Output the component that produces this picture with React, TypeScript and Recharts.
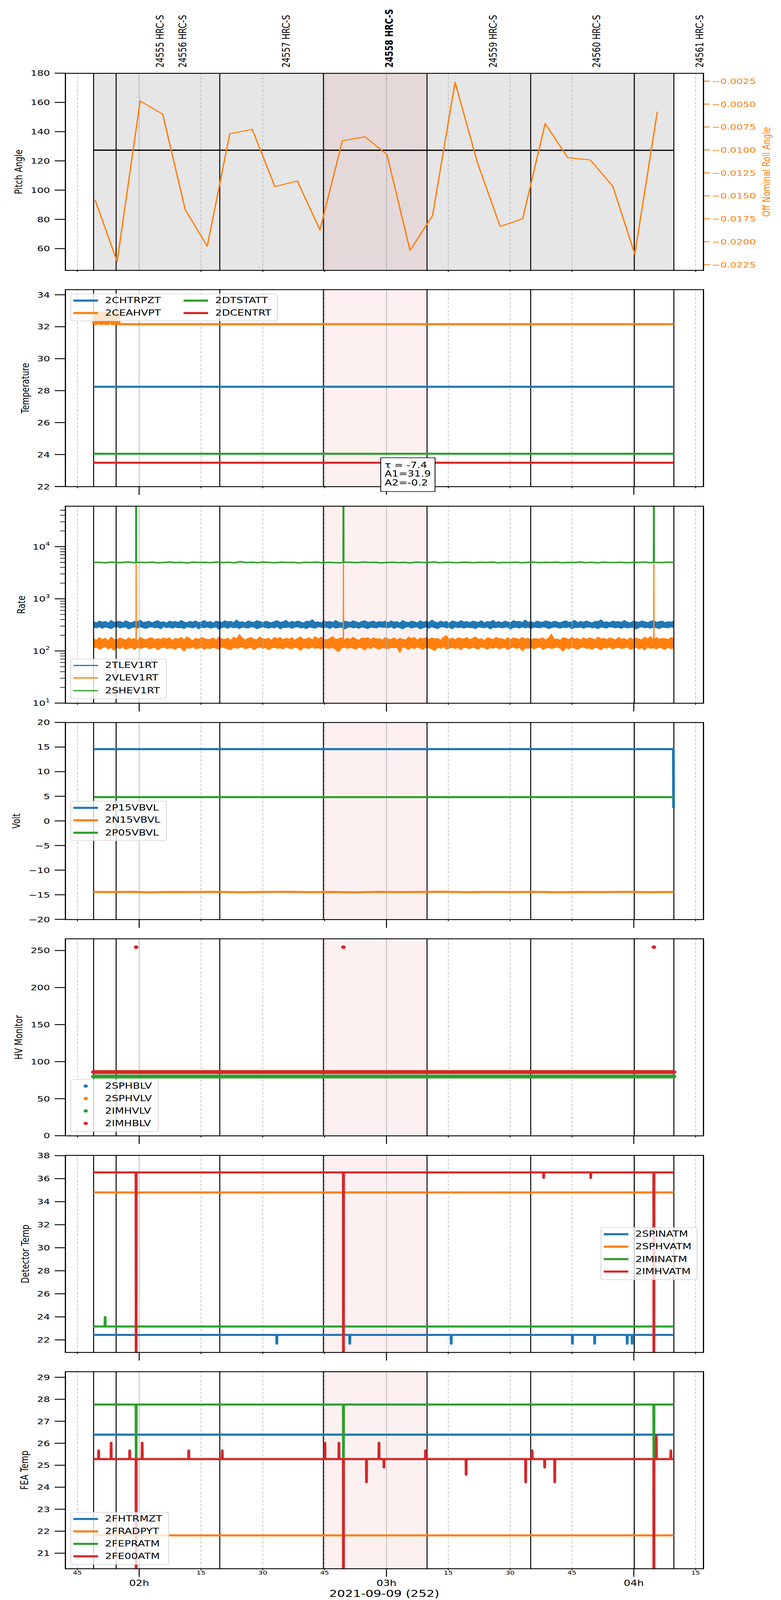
import React from 'react';
import { ComposedChart, Line, Area, Scatter, XAxis, YAxis, ReferenceLine, ReferenceArea } from 'recharts';

const FONT = '"DejaVu Sans", Verdana, sans-serif';
const C_BLUE = '#1f77b4';
const C_ORANGE = '#ff7f0e';
const C_GREEN = '#2ca02c';
const C_RED = '#d62728';

// ---------- time axis (minutes after 00:00, 2021-09-09) ----------
const T_DOMAIN: [number, number] = [102.06, 256.86];
const X_TICKS = [105, 120, 135, 150, 165, 180, 195, 210, 225, 240, 255];
const X_TICK_LABELS = ['45', '02h', '15', '30', '45', '03h', '15', '30', '45', '04h', '15'];
const DATA_START = 108.95;
const DATA_END = 249.72;
const OBS_STARTS = [114.41, 139.56, 164.7, 189.84, 214.99, 240.13];
const HOUR_LINES = [120, 180, 240];
const QUARTER_LINES = [105, 135, 150, 165, 195, 210, 225, 255];
const FOCUS_OBS = [164.7, 189.84];
const OBS_LABEL_T = [125.1, 130.6, 155.7, 180.7, 205.9, 231.0, 256.0];
const OBS_LABELS = ['24555 HRC-S', '24556 HRC-S', '24557 HRC-S', '24558 HRC-S', '24559 HRC-S', '24560 HRC-S', '24561 HRC-S'];
const OBS_LABEL_BOLD = [false, false, false, true, false, false, false];

// ---------- panel 1: pitch / roll ----------
const PITCH_T = [108.95, 139.56, 249.72];
const PITCH_V = [127.35, 127.3, 127.25];
const ROLL_T = [109.31, 114.66, 120.24, 125.71, 131.17, 136.52, 141.98, 147.45, 152.92, 158.38, 163.85, 169.31, 174.78, 180.12, 185.71, 191.18, 196.64, 202.11, 207.57, 213.04, 218.51, 223.97, 229.44, 234.9, 240.25, 245.71];
const ROLL_V = [-0.01544, -0.02217, -0.00466, -0.0061, -0.0165, -0.0205, -0.00824, -0.00775, -0.014, -0.01338, -0.01872, -0.00899, -0.00856, -0.0105, -0.02095, -0.01715, -0.00262, -0.01145, -0.01834, -0.0175, -0.00711, -0.01084, -0.01109, -0.01395, -0.02137, -0.00583];
const PITCH_TICKS = [60, 80, 100, 120, 140, 160, 180];
const ROLL_TICKS = [-0.0225, -0.02, -0.0175, -0.015, -0.0125, -0.01, -0.0075, -0.005, -0.0025];

// ---------- panel 2: temperature ----------
const FLAT_T = [108.95, 249.72];
const CHTRPZT_V = [28.24, 28.24];
const CEAHVPT_T = [108.95, 109.2, 109.5, 109.8, 110.1, 110.4, 110.7, 111.0, 111.3, 111.6, 111.9, 112.2, 112.5, 112.8, 113.1, 113.4, 113.7, 114.0, 114.3, 114.6, 114.9, 115.2, 249.72];
const CEAHVPT_V = [32.16, 32.9, 32.16, 32.9, 32.2, 32.9, 32.16, 32.88, 32.18, 32.9, 32.16, 32.85, 32.16, 32.3, 32.9, 32.16, 32.9, 32.17, 32.9, 32.16, 32.88, 32.16, 32.16];
const DTSTATT_V = [24.05, 24.05];
const DCENTRT_V = [23.49, 23.49];

const BLUE_HI = [
  366,351,379,358,372,347,390,356,368,374,353,383,361,349,373,366,392,355,364,376,
  350,370,385,357,367,346,378,361,372,354,389,363,351,375,359,381,354,368,386,357,
  371,348,377,362,356,383,365,373,352,397,360,369,349,379,364,358,385,371,355,375,
  361,350,370,382,356,367,390,352,373,359,380,363,348,376,368,400,357,365,351,380,
  362,372,356,388,361,348,376,367,356,382,365,352,372,385,358,366,377,354,371,361,
  374,353,381,359,369,348,387,362,355,376,366,350,383,360,371,357,393,364,352,378,
  358,373,346,380,367,355,386,361,370,352,377,365,358,384,349,372,363,391,356,369,
  351,378,362,357,385,368,374,353,396,360,367,349,376,364,358,381,369,355,375,362,
  352,370,381,356,366,389,354,373,359,379,363,350,374,368,399,357,365,353,378,364,
  370,356,387,361,350,374,367,358,381,365,354,372,384,358,368,377,354,369,361,375,
];
const BLUE_LO = [
  283,275,289,269,286,278,265,284,291,273,280,288,261,278,285,271,289,276,268,284,
  287,274,281,263,290,277,284,270,286,275,279,267,288,282,273,290,262,281,276,287,
  271,279,286,257,278,285,269,289,275,282,266,286,278,272,289,283,264,276,287,279,
  270,285,275,290,261,282,277,286,269,284,288,273,279,265,286,278,271,289,282,275,
  284,267,287,272,279,285,260,278,288,274,283,269,286,277,265,284,279,273,289,280,
  281,276,289,268,284,279,262,283,290,272,282,287,263,277,286,270,288,275,267,285,
  288,273,280,264,289,276,285,271,284,277,280,266,287,281,274,289,261,280,277,286,
  273,281,285,259,280,284,271,288,276,281,268,285,279,274,288,282,266,277,286,280,
  271,284,276,289,263,281,278,285,270,283,287,274,280,266,285,279,272,288,281,276,
  283,268,286,273,280,284,261,279,287,275,282,270,285,278,266,283,280,274,288,279,
];
const ORANGE_HI = [
  171,163,182,167,177,159,186,169,164,179,173,162,180,168,175,158,184,171,166,177,
  181,166,175,168,180,170,181,161,176,170,184,165,189,172,160,178,168,183,174,167,
  169,180,163,187,171,168,178,162,185,173,208,178,164,177,183,169,166,188,173,170,
  177,161,184,172,182,165,178,169,182,163,176,188,167,173,181,164,190,170,187,172,
  165,176,190,167,173,181,164,177,168,185,170,162,179,175,182,166,180,171,174,164,
  183,171,167,180,165,176,170,164,186,174,183,163,178,173,180,168,180,171,176,162,
  185,197,169,178,165,181,174,171,183,166,176,187,168,174,160,181,176,166,185,172,
  175,163,182,168,179,174,167,184,171,176,166,174,173,169,181,164,178,213,168,172,
  162,181,176,166,185,170,177,163,182,168,179,174,165,186,171,176,167,180,172,164,
  184,170,175,163,181,168,178,172,165,186,171,190,164,183,169,176,173,167,182,174,
];
const ORANGE_LO = [
  113,117,107,114,121,108,115,102,118,110,119,106,112,116,105,117,111,114,120,109,
  112,118,104,113,118,110,114,112,107,117,113,98,115,111,119,109,112,116,106,114,
  110,116,112,107,119,113,109,104,118,111,115,120,108,114,117,105,113,119,110,116,
  105,113,117,111,114,107,118,112,109,117,112,102,116,113,110,119,111,114,108,118,
  114,111,117,105,95,113,118,110,116,112,108,117,113,103,116,110,119,112,108,115,
  112,110,116,114,117,92,119,113,107,115,110,118,112,106,117,114,109,101,116,111,
  119,107,112,116,110,115,104,118,113,110,117,112,108,119,114,106,116,111,118,109,
  113,117,105,112,118,110,116,100,114,111,117,108,115,119,106,112,116,110,113,118,
  111,98,114,109,117,112,106,115,118,110,113,107,117,112,104,116,111,119,108,114,
  116,110,113,118,106,112,117,109,115,103,119,111,114,108,116,112,105,117,110,113,
];
const GREEN_V = [4950,5020,4890,5060,4930,4990,5080,4910,5000,4960,5040,4900,4980,5070,4940,5010,4870,5050,4970,5000,4920,5090,4960,5020,4890,5150,4950,5010,4930,5060,4980,4910,5040,4970,5000,4880,5030,4950,5070,4920,5010,4960,4900,5050,4990,4940,5080,4970,5020,4900,4960,5040,4930,5000,4880,5060,4980,4950,5100,4920,5030,4970,4910,5050,4990,4940,5020,4960,5070,4890,5000,4950,5040,4920,4980,5060,4930,5010,4970,5050,4910,5000,4960,5080,4940,5020,4890,5040,4980,4950,5030,4920,5010,4970,5060,4940,5000,4960,5040,4990];
const SPIKE_T = [119.27, 169.56, 244.87];
const GREEN_SPIKE_V = [200000, 200000, 200000];
const ORANGE_SPIKE_V = [4700, 4700, 4700];
const RATE_MAJOR = [10, 100, 1000, 10000];
const RATE_TICKS = [10, 20, 30, 40, 50, 60, 70, 80, 90, 100, 200, 300, 400, 500, 600, 700, 800, 900, 1000, 2000, 3000, 4000, 5000, 6000, 7000, 8000, 9000, 10000, 20000, 30000, 40000, 50000];

// ---------- panel 4: volt ----------
const P15_T = [108.95, 249.6, 249.65];
const P15_V = [14.57, 14.57, 2.6];
const N15_T = [108.95, 113, 118.5, 122, 127.5, 133, 139, 144.5, 150, 156, 161.5, 167, 172, 177.5, 183, 188, 193.5, 199, 204.5, 210, 216, 221.5, 227, 232.5, 238, 243.5, 249.72];
const N15_V = [-14.42, -14.45, -14.4, -14.5, -14.42, -14.44, -14.4, -14.48, -14.42, -14.41, -14.46, -14.42, -14.5, -14.4, -14.45, -14.42, -14.38, -14.47, -14.42, -14.44, -14.4, -14.49, -14.42, -14.45, -14.41, -14.46, -14.42];
const P05_V = [4.83, 4.83];

// ---------- panel 5: HV monitor ----------
const IMHVLV_V = [79.9, 79.9];
const IMHBLV_V = [85.9, 85.9];
const IMHBLV_OUT_V = [254.5, 254.5, 254.5];

// ---------- panel 6: detector temp ----------
const SPINATM_BASE = 22.43;
const SPINATM_SPIKE_T = [153.4, 171.1, 195.7, 225.1, 230.5, 238.4, 239.6];
const SPINATM_SPIKE_V = [21.67, 21.67, 21.67, 21.67, 21.67, 21.67, 21.67];
const SPHVATM_V = [34.8, 34.8];
const IMINATM_BASE = 23.16;
const IMINATM_SPIKE_T = [111.74];
const IMINATM_SPIKE_V = [23.97];
const IMHVATM_BASE = 36.54;
const IMHVATM_SPIKE_T = [119.27, 169.56, 218.14, 229.56, 244.87];
const IMHVATM_SPIKE_V = [15, 15, 36.07, 36.07, 15];

// ---------- panel 7: FEA temp ----------
const FHTRMZT_V = [26.39, 26.39];
const FRADPYT_V = [21.81, 21.81];
const FEPRATM_BASE = 27.76;
const FEPRATM_SPIKE_T = [119.27, 169.56, 244.87];
const FEPRATM_SPIKE_V = [25.3, 25.3, 25.3];
const FE00ATM_BASE = 25.28;
const FE00ATM_SPIKE_T = [110.17, 113.2, 117.7, 119.27, 120.73, 132.03, 140.16, 165.07, 168.47, 169.56, 175.15, 178.18, 179.39, 189.47, 199.32, 213.77, 215.35, 218.38, 220.82, 244.87, 245.47, 248.99];
const FE00ATM_SPIKE_V = [25.67, 26.02, 25.67, 15, 26.02, 25.67, 25.67, 26.02, 26.02, 15, 24.23, 26.02, 24.9, 25.67, 24.57, 24.23, 25.67, 24.9, 24.23, 15, 26.35, 25.67];

// ---------- layout (2000 x 5400 design) ----------
const PANEL_TOPS = [247, 977, 1708, 2438, 3168, 3899, 4629];
const PH = 665;
const PLOT_L = 167;
const PLOT_R = 1801;
const TOP_PAD = 30;
const DESIGN_H = 5400;

type Pt = { t: number; v: number | null };
const pts = (ts: number[], vs: (number | null)[]): Pt[] => ts.map((t, i) => ({ t, v: vs[i] }));
function withSpikes(base: number, st: number[], sv: number[]): Pt[] {
  const out: Pt[] = [{ t: DATA_START, v: base }];
  st.map((t, i) => ({ t, v: sv[i] }))
    .sort((a, b) => a.t - b.t)
    .forEach((s) => {
      out.push({ t: s.t - 0.04, v: base }, { t: s.t, v: s.v }, { t: s.t + 0.04, v: base });
    });
  out.push({ t: DATA_END, v: base });
  return out;
}
const grid = (n: number) => Array.from({ length: n }, (_, i) => DATA_START + (i * (DATA_END - DATA_START)) / (n - 1));

const RATE_T = grid(BLUE_HI.length);
const GREEN_T = grid(GREEN_V.length);
const rateData = RATE_T.map((t, i) => ({ t, blue: [BLUE_LO[i], BLUE_HI[i]], orange: [ORANGE_LO[i], ORANGE_HI[i]] }));
const greenRate: Pt[] = [
  ...GREEN_T.map((t, i) => ({ t, v: GREEN_V[i] })),
  ...SPIKE_T.flatMap((t, i) => [{ t: t - 0.02, v: 5000 }, { t, v: GREEN_SPIKE_V[i] }, { t: t + 0.02, v: 5000 }]),
].sort((a, b) => a.t - b.t);
const orangeSpikes: Pt[] = SPIKE_T.flatMap((t, i) => [
  { t: t - 0.03, v: 140 },
  { t, v: ORANGE_SPIKE_V[i] },
  { t: t + 0.03, v: 140 },
  { t: t + 0.035, v: null },
]);

const minusFmt = (v: number) => (v < 0 ? '\u2212' + String(Math.abs(v)) : String(v));

// ---------- tick renderers ----------
const xTick = (showMajor: boolean, showLabels: boolean) => (p: any) => {
  const { x, y, payload } = p;
  const idx = X_TICKS.indexOf(payload.value);
  const lab = idx >= 0 ? X_TICK_LABELS[idx] : '';
  const major = lab.endsWith('h');
  const len = major ? (showMajor ? 28 : 0) : 6;
  return (
    <g>
      {len > 0 && <line x1={x} x2={x} y1={y} y2={y + len} stroke="#000" strokeWidth={major ? 2.5 : 2} />}
      {showLabels && (
        <text x={x} y={y + (major ? 50 : 14)} textAnchor="middle" dominantBaseline="central" fontSize={major ? 27 : 18} fontFamily={FONT} fill="#000">
          {lab}
        </text>
      )}
    </g>
  );
};

const yTickLeft = (fmt: (v: number) => string) => (p: any) => {
  const { x, y, payload } = p;
  return (
    <g>
      <line x1={x - 27} x2={x} y1={y} y2={y} stroke="#000" strokeWidth={3} />
      <text x={x - 39} y={y} dy="0.36em" textAnchor="end" fontSize={26} fontFamily={FONT} fill="#000">
        {fmt(payload.value)}
      </text>
    </g>
  );
};

const yTickRight = (p: any) => {
  const { x, y, payload } = p;
  return (
    <g>
      <line x1={x} x2={x + 17} y1={y} y2={y} stroke={C_ORANGE} strokeWidth={3} />
      <text x={x + 22} y={y} dy="0.36em" textAnchor="start" fontSize={26} fontFamily={FONT} fill={C_ORANGE}>
        {'\u2212' + Math.abs(payload.value).toFixed(4)}
      </text>
    </g>
  );
};

const logTick = (p: any) => {
  const { x, y, payload } = p;
  const v = payload.value;
  const major = RATE_MAJOR.includes(v);
  if (!major) return <line x1={x - 13} x2={x} y1={y} y2={y} stroke="#000" strokeWidth={2} />;
  const e = Math.round(Math.log10(v));
  return (
    <g>
      <line x1={x - 27} x2={x} y1={y} y2={y} stroke="#000" strokeWidth={3} />
      <text x={x - 39} y={y} dy="0.36em" textAnchor="end" fontSize={26} fontFamily={FONT} fill="#000">
        10<tspan dy={-12} fontSize={18}>{e}</tspan>
      </text>
    </g>
  );
};

const xAxisEl = (showMajor: boolean, showLabels: boolean, h: number) => (
  <XAxis
    dataKey="t"
    type="number"
    domain={T_DOMAIN}
    allowDataOverflow
    ticks={X_TICKS}
    interval={0}
    tickLine={false}
    axisLine={false}
    tickSize={0}
    tickMargin={0}
    height={h}
    tick={xTick(showMajor, showLabels)}
  />
);

const yAxisEl = (domain: [number, number], ticks: number[], tick: any, extra: any = {}) => (
  <YAxis
    type="number"
    domain={domain}
    allowDataOverflow
    ticks={ticks}
    interval={0}
    tickLine={false}
    axisLine={false}
    tickSize={0}
    tickMargin={0}
    width={167}
    tick={tick}
    {...extra}
  />
);

function backdrop(gray: boolean) {
  const els: any[] = [];
  if (gray) els.push(<ReferenceArea key="gray" x1={DATA_START} x2={DATA_END} fill="#808080" fillOpacity={0.2} stroke="none" />);
  els.push(<ReferenceArea key="pink" x1={FOCUS_OBS[0]} x2={FOCUS_OBS[1]} fill={C_RED} fillOpacity={0.07} stroke="none" />);
  QUARTER_LINES.forEach((t) => els.push(<ReferenceLine key={'q' + t} x={t} stroke="#b5b5b5" strokeWidth={1.5} strokeDasharray="9 5" />));
  HOUR_LINES.forEach((t) => els.push(<ReferenceLine key={'h' + t} x={t} stroke="#a8a8a8" strokeWidth={1.5} />));
  [DATA_START, ...OBS_STARTS, DATA_END].forEach((t) => els.push(<ReferenceLine key={'o' + t} x={t} stroke="#000" strokeWidth={2.5} />));
  return els;
}

const line = (key: string, data: Pt[], color: string, width: number, extra: any = {}) => (
  <Line
    key={key}
    data={data}
    dataKey="v"
    type="linear"
    stroke={color}
    strokeWidth={width}
    strokeLinejoin="round"
    dot={false}
    activeDot={false}
    isAnimationActive={false}
    {...extra}
  />
);

// ---------- HTML overlays ----------
const frame = (top: number) => (
  <div
    style={{
      position: 'absolute',
      left: PLOT_L - 1.5,
      top: top - 1.5,
      width: PLOT_R - PLOT_L + 3,
      height: PH + 3,
      border: '3px solid #000',
      boxSizing: 'border-box',
      pointerEvents: 'none',
    }}
  />
);

const yLabel = (text: string, cx: number, cy: number, color = '#000') => (
  <div
    style={{
      position: 'absolute',
      left: cx,
      top: cy,
      writingMode: 'vertical-rl',
      transform: 'translate(-50%, -50%) rotate(180deg)',
      fontSize: 27,
      whiteSpace: 'nowrap',
      color,
      lineHeight: 1,
    }}
  >
    {text}
  </div>
);

type LegItem = { label: string; color: string };
function LegendBox(props: { left: number; top: number; width: number; height: number; items: LegItem[]; rows: number; lw?: number; marker?: boolean }) {
  const { left, top, width, height, items, rows, lw = 7, marker = false } = props;
  return (
    <div
      style={{
        position: 'absolute',
        left,
        top,
        width,
        height,
        boxSizing: 'border-box',
        border: '2px solid #d4d4d4',
        borderRadius: 7,
        background: 'rgba(255,255,255,0.8)',
      }}
    >
      {items.map((it, i) => {
        const col = Math.floor(i / rows);
        const row = i % rows;
        const cy = 23 + row * 42.3 - 2;
        const x0 = col * 282 - 2;
        return (
          <React.Fragment key={i}>
            {marker ? (
              <div style={{ position: 'absolute', left: x0 + 39 - 5.5, top: cy - 5.5, width: 11, height: 11, borderRadius: '50%', background: it.color }} />
            ) : (
              <div style={{ position: 'absolute', left: x0 + 8, top: cy - lw / 2, width: 63, height: lw, background: it.color }} />
            )}
            <div style={{ position: 'absolute', left: x0 + 89, top: cy - 16, height: 32, lineHeight: '32px', fontSize: 27, whiteSpace: 'nowrap' }}>{it.label}</div>
          </React.Fragment>
        );
      })}
    </div>
  );
}

const chartBox = (panelTop: number, xh: number, content: (h: number) => React.ReactNode) => {
  const h = TOP_PAD + PH + xh;
  return <div style={{ position: 'absolute', left: 0, top: panelTop - TOP_PAD, width: 2000, height: h }}>{content(h)}</div>;
};

export default function App() {
  const W = 2000;
  const m = { top: TOP_PAD, right: 199, bottom: 0, left: 0 };
  // the browser only photographs its real viewport; fit the 5400-tall design into it
  const [fit, setFit] = React.useState(1);
  React.useLayoutEffect(() => {
    const h = window.innerHeight;
    if (h > 0 && h < DESIGN_H) setFit(h / DESIGN_H);
  }, []);

  const p1 = (
    <div style={{ position: 'absolute', left: 0, top: 0, width: 2000, height: PANEL_TOPS[0] + PH + 30 }}>
      <ComposedChart width={W} height={PANEL_TOPS[0] + PH + 30} margin={{ top: PANEL_TOPS[0], right: 0, bottom: 0, left: 0 }}>
        {xAxisEl(false, false, 30)}
        {yAxisEl([45.2, 180], PITCH_TICKS, yTickLeft(minusFmt), { yAxisId: 0 })}
        <YAxis
          yAxisId="right"
          orientation="right"
          type="number"
          domain={[-0.02311, -0.00163]}
          allowDataOverflow
          ticks={ROLL_TICKS}
          interval={0}
          tickLine={false}
          axisLine={false}
          tickSize={0}
          tickMargin={0}
          width={199}
          tick={yTickRight}
        />
        {backdrop(true)}
        {OBS_LABEL_T.map((t, i) => (
          <ReferenceLine
            key={'lab' + i}
            x={t}
            stroke="none"
            shape={(p: any) => {
              const x = p.x1;
              const y = Math.min(p.y1, p.y2) - 19;
              return (
                <text
                  x={x}
                  y={y}
                  transform={`rotate(-90 ${x} ${y})`}
                  textAnchor="start"
                  dominantBaseline="central"
                  fontSize={27}
                  fontWeight={OBS_LABEL_BOLD[i] ? 'bold' : 'normal'}
                  fontFamily={FONT}
                  fill="#000"
                >
                  {OBS_LABELS[i]}
                </text>
              );
            }}
          />
        ))}
        {line('pitch', pts(PITCH_T, PITCH_V), '#000', 4, { yAxisId: 0 })}
        {line('roll', pts(ROLL_T, ROLL_V), C_ORANGE, 3.5, { yAxisId: 'right' })}
      </ComposedChart>
    </div>
  );

  const p2 = chartBox(PANEL_TOPS[1], 30, (h) => (
    <ComposedChart width={W} height={h} margin={m}>
      {xAxisEl(true, false, 30)}
      {yAxisEl([22, 34.33], [22, 24, 26, 28, 30, 32, 34], yTickLeft(minusFmt))}
      {backdrop(false)}
      {line('a', pts(FLAT_T, CHTRPZT_V), C_BLUE, 7)}
      {line('b', pts(CEAHVPT_T, CEAHVPT_V), C_ORANGE, 7)}
      {line('c', pts(FLAT_T, DTSTATT_V), C_GREEN, 7)}
      {line('d', pts(FLAT_T, DCENTRT_V), C_RED, 7)}
    </ComposedChart>
  ));

  const p3 = chartBox(PANEL_TOPS[2], 30, (h) => (
    <ComposedChart width={W} height={h} margin={m}>
      {xAxisEl(true, false, 30)}
      {yAxisEl([10, 60000], RATE_TICKS, logTick, { scale: 'log' })}
      {backdrop(false)}
      <Area data={rateData} dataKey="blue" type="linear" stroke={C_BLUE} strokeWidth={1.5} fill={C_BLUE} fillOpacity={1} dot={false} activeDot={false} isAnimationActive={false} />
      <Area data={rateData} dataKey="orange" type="linear" stroke={C_ORANGE} strokeWidth={1.5} fill={C_ORANGE} fillOpacity={1} dot={false} activeDot={false} isAnimationActive={false} />
      {line('os', orangeSpikes, C_ORANGE, 3, { connectNulls: false })}
      {line('g', greenRate, C_GREEN, 5)}
    </ComposedChart>
  ));

  const p4 = chartBox(PANEL_TOPS[3], 30, (h) => (
    <ComposedChart width={W} height={h} margin={m}>
      {xAxisEl(true, false, 30)}
      {yAxisEl([-20, 20], [-20, -15, -10, -5, 0, 5, 10, 15, 20], yTickLeft(minusFmt))}
      {backdrop(false)}
      {line('a', pts(P15_T, P15_V), C_BLUE, 7)}
      {line('b', pts(N15_T, N15_V), C_ORANGE, 7)}
      {line('c', pts(FLAT_T, P05_V), C_GREEN, 7)}
    </ComposedChart>
  ));

  const p5 = chartBox(PANEL_TOPS[4], 30, (h) => (
    <ComposedChart width={W} height={h} margin={m}>
      {xAxisEl(true, false, 30)}
      {yAxisEl([0, 266], [0, 50, 100, 150, 200, 250], yTickLeft(minusFmt))}
      {backdrop(false)}
      {line('g', pts(FLAT_T, IMHVLV_V), C_GREEN, 13, { strokeLinecap: 'round' })}
      {line('r', pts(FLAT_T, IMHBLV_V), C_RED, 13, { strokeLinecap: 'round' })}
      <Scatter
        data={pts(SPIKE_T, IMHBLV_OUT_V)}
        dataKey="v"
        fill={C_RED}
        isAnimationActive={false}
        shape={(p: any) => <circle cx={p.cx} cy={p.cy} r={6} fill={C_RED} />}
      />
    </ComposedChart>
  ));

  const p6 = chartBox(PANEL_TOPS[5], 30, (h) => (
    <ComposedChart width={W} height={h} margin={m}>
      {xAxisEl(true, false, 30)}
      {yAxisEl([20.92, 38.03], [22, 24, 26, 28, 30, 32, 34, 36, 38], yTickLeft(minusFmt))}
      {backdrop(false)}
      {line('a', withSpikes(SPINATM_BASE, SPINATM_SPIKE_T, SPINATM_SPIKE_V), C_BLUE, 7)}
      {line('b', pts(FLAT_T, SPHVATM_V), C_ORANGE, 7)}
      {line('c', withSpikes(IMINATM_BASE, IMINATM_SPIKE_T, IMINATM_SPIKE_V), C_GREEN, 7)}
      {line('d', withSpikes(IMHVATM_BASE, IMHVATM_SPIKE_T, IMHVATM_SPIKE_V), C_RED, 7)}
    </ComposedChart>
  ));

  const P7X = 5398 - PANEL_TOPS[6] - PH;
  const p7 = chartBox(PANEL_TOPS[6], P7X, (h) => (
    <ComposedChart width={W} height={h} margin={m}>
      {xAxisEl(true, true, P7X)}
      {yAxisEl([20.3, 29.26], [21, 22, 23, 24, 25, 26, 27, 28, 29], yTickLeft(minusFmt))}
      {backdrop(false)}
      {line('a', pts(FLAT_T, FHTRMZT_V), C_BLUE, 7)}
      {line('b', pts(FLAT_T, FRADPYT_V), C_ORANGE, 7)}
      {line('c', withSpikes(FEPRATM_BASE, FEPRATM_SPIKE_T, FEPRATM_SPIKE_V), C_GREEN, 7)}
      {line('d', withSpikes(FE00ATM_BASE, FE00ATM_SPIKE_T, FE00ATM_SPIKE_V), C_RED, 7)}
    </ComposedChart>
  ));

  const mid = (i: number) => PANEL_TOPS[i] + PH / 2;

  return (
    <div
      style={{
        position: 'absolute',
        left: 0,
        top: 0,
        width: 2000,
        height: DESIGN_H,
        background: '#fff',
        fontFamily: FONT,
        color: '#000',
        overflow: 'hidden',
        transform: `scale(1, ${fit})`,
        transformOrigin: '0 0',
      }}
    >
      {p1}
      {p2}
      {p3}
      {p4}
      {p5}
      {p6}
      {p7}
      {PANEL_TOPS.map((t, i) => (
        <React.Fragment key={i}>{frame(t)}</React.Fragment>
      ))}
      {yLabel('Pitch Angle', 47, mid(0))}
      {yLabel('Off Nominal Roll Angle', 1962, mid(0), C_ORANGE)}
      {yLabel('Temperature', 64, mid(1))}
      {yLabel('Rate', 54, mid(2))}
      {yLabel('Volt', 41, mid(3))}
      {yLabel('HV Monitor', 47, mid(4))}
      {yLabel('Detector Temp', 64, mid(5))}
      {yLabel('FEA Temp', 62, mid(6))}

      <LegendBox left={180} top={991} width={531} height={93} rows={2} items={[
        { label: '2CHTRPZT', color: C_BLUE },
        { label: '2CEAHVPT', color: C_ORANGE },
        { label: '2DTSTATT', color: C_GREEN },
        { label: '2DCENTRT', color: C_RED },
      ]} />
      <LegendBox left={180} top={2223} width={247} height={136} rows={3} lw={4} items={[
        { label: '2TLEV1RT', color: C_BLUE },
        { label: '2VLEV1RT', color: C_ORANGE },
        { label: '2SHEV1RT', color: C_GREEN },
      ]} />
      <LegendBox left={180} top={2703} width={247} height={135} rows={3} items={[
        { label: '2P15VBVL', color: C_BLUE },
        { label: '2N15VBVL', color: C_ORANGE },
        { label: '2P05VBVL', color: C_GREEN },
      ]} />
      <LegendBox left={180} top={3642} width={226} height={178} rows={4} marker items={[
        { label: '2SPHBLV', color: C_BLUE },
        { label: '2SPHVLV', color: C_ORANGE },
        { label: '2IMHVLV', color: C_GREEN },
        { label: '2IMHBLV', color: C_RED },
      ]} />
      <LegendBox left={1538} top={4142} width={248} height={178} rows={4} items={[
        { label: '2SPINATM', color: C_BLUE },
        { label: '2SPHVATM', color: C_ORANGE },
        { label: '2IMINATM', color: C_GREEN },
        { label: '2IMHVATM', color: C_RED },
      ]} />
      <LegendBox left={180} top={5103} width={253} height={178} rows={4} items={[
        { label: '2FHTRMZT', color: C_BLUE },
        { label: '2FRADPYT', color: C_ORANGE },
        { label: '2FEPRATM', color: C_GREEN },
        { label: '2FE00ATM', color: C_RED },
      ]} />

      <div
        style={{
          position: 'absolute',
          left: 974,
          top: 1544,
          width: 141,
          height: 116,
          boxSizing: 'border-box',
          border: '2.5px solid #000',
          background: '#fff',
          paddingLeft: 9,
          paddingTop: 9,
          fontSize: 27,
          lineHeight: '30px',
          whiteSpace: 'nowrap',
        }}
      >
        <div>τ = -7.4</div>
        <div>A1=31.9</div>
        <div>A2=-0.2</div>
      </div>

      <div style={{ position: 'absolute', left: (PLOT_L + PLOT_R) / 2, top: 5378, transform: 'translate(-50%, -50%)', fontSize: 32, whiteSpace: 'nowrap', lineHeight: 1 }}>
        2021-09-09 (252)
      </div>
    </div>
  );
}
